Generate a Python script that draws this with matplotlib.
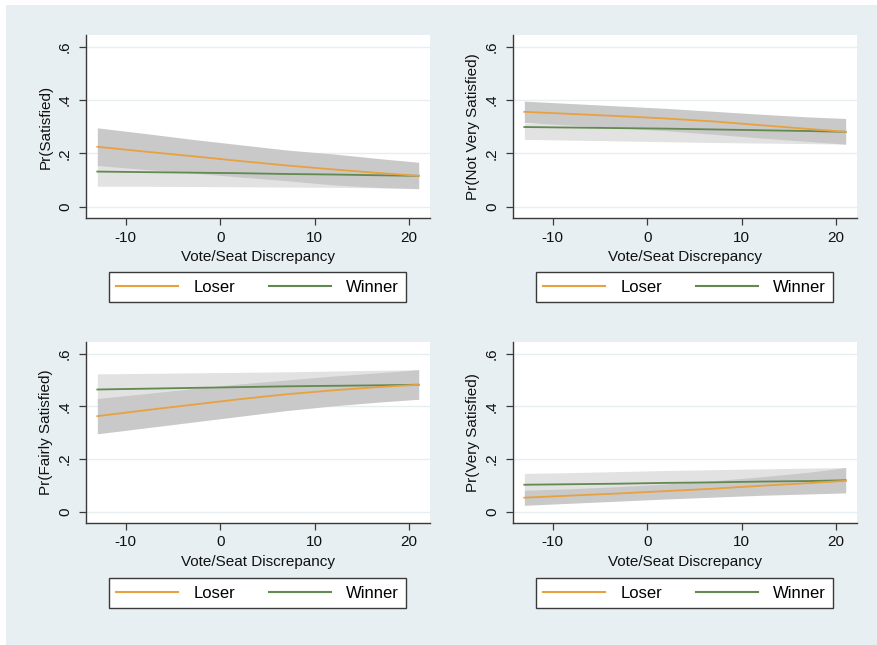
import matplotlib
matplotlib.use("Agg")
import matplotlib.pyplot as plt
from matplotlib.patches import Rectangle

plt.rcParams['font.family'] = ['Liberation Sans', 'DejaVu Sans']

# ---- data ----
x_vals = [-13, -8, -3, 2, 7, 12, 17, 21]

ylabels = ["Pr(Satisfied)", "Pr(Not Very Satisfied)",
           "Pr(Fairly Satisfied)", "Pr(Very Satisfied)"]

loser_mean = [
    [0.225, 0.207, 0.190, 0.172, 0.155, 0.140, 0.126, 0.116],
    [0.356, 0.348, 0.340, 0.331, 0.320, 0.306, 0.292, 0.281],
    [0.363, 0.385, 0.406, 0.427, 0.446, 0.461, 0.474, 0.482],
    [0.054, 0.062, 0.070, 0.079, 0.088, 0.099, 0.109, 0.118],
]
loser_upper = [
    [0.296, 0.275, 0.253, 0.233, 0.213, 0.198, 0.180, 0.167],
    [0.396, 0.387, 0.378, 0.369, 0.358, 0.347, 0.337, 0.331],
    [0.430, 0.448, 0.467, 0.485, 0.500, 0.515, 0.528, 0.539],
    [0.082, 0.088, 0.096, 0.106, 0.118, 0.133, 0.150, 0.168],
]
loser_lower = [
    [0.155, 0.140, 0.127, 0.112, 0.098, 0.082, 0.072, 0.068],
    [0.316, 0.306, 0.296, 0.285, 0.272, 0.258, 0.245, 0.235],
    [0.296, 0.318, 0.340, 0.362, 0.384, 0.402, 0.417, 0.427],
    [0.025, 0.033, 0.041, 0.049, 0.056, 0.063, 0.068, 0.072],
]
winner_mean = [
    [0.132, 0.130, 0.128, 0.126, 0.123, 0.121, 0.118, 0.116],
    [0.299, 0.297, 0.295, 0.293, 0.290, 0.287, 0.284, 0.281],
    [0.464, 0.467, 0.470, 0.473, 0.476, 0.478, 0.480, 0.482],
    [0.103, 0.105, 0.107, 0.110, 0.112, 0.115, 0.117, 0.120],
]
winner_upper = [
    [0.190, 0.185, 0.180, 0.175, 0.170, 0.165, 0.162, 0.160],
    [0.313, 0.311, 0.309, 0.307, 0.305, 0.302, 0.300, 0.298],
    [0.523, 0.525, 0.527, 0.529, 0.531, 0.534, 0.537, 0.539],
    [0.146, 0.149, 0.153, 0.157, 0.160, 0.163, 0.166, 0.168],
]
winner_lower = [
    [0.077, 0.077, 0.076, 0.075, 0.074, 0.073, 0.071, 0.070],
    [0.253, 0.250, 0.247, 0.244, 0.241, 0.239, 0.237, 0.235],
    [0.410, 0.413, 0.416, 0.419, 0.421, 0.423, 0.425, 0.427],
    [0.070, 0.071, 0.072, 0.073, 0.074, 0.075, 0.076, 0.077],
]

xticks = [-10, 0, 10, 20]
yticks = [0, 0.2, 0.4, 0.6]
yticklabels = ["0", ".2", ".4", ".6"]
xlabel = "Vote/Seat Discrepancy"
series_names = ["Loser", "Winner"]

# ---- styles ----
W, H = 878, 645
BG = "#e8eff2"
LOSER_C = "#e8a13f"
WINNER_C = "#62894f"
LOSER_BAND = "#c9c9c9"
WINNER_BAND = "#e2e2e2"
SPINE = "#3a3a3a"

fig = plt.figure(figsize=(W / 100, H / 100), dpi=100, facecolor="white")
fig.patches.append(Rectangle((6 / W, 0), 1 - 6 / W, 1 - 5 / H,
                             transform=fig.transFigure, facecolor=BG,
                             edgecolor="none", zorder=-10))

# axes boxes in pixels: left, top, right, bottom
boxes = [
    (86, 35, 430, 218),
    (513, 35, 857, 218),
    (86, 342, 430, 523),
    (513, 342, 857, 523),
]
legend_boxes = [
    (109, 271, 406, 303),
    (536, 271, 833, 303),
    (109, 578, 406, 608),
    (536, 578, 833, 608),
]


def fig_rect(l, t, r, b):
    return [l / W, 1 - b / H, (r - l) / W, (b - t) / H]


for i in range(4):
    ax = fig.add_axes(fig_rect(*boxes[i]))
    ax.set_facecolor("white")
    ax.fill_between(x_vals, winner_lower[i], winner_upper[i],
                    color=WINNER_BAND, lw=0, zorder=1)
    ax.fill_between(x_vals, loser_lower[i], loser_upper[i],
                    color=LOSER_BAND, lw=0, zorder=2)
    lw_, = ax.plot(x_vals, loser_mean[i], color=LOSER_C, lw=1.3, zorder=4,
                   label=series_names[0])
    ww_, = ax.plot(x_vals, winner_mean[i], color=WINNER_C, lw=1.3, zorder=3,
                   label=series_names[1])
    ax.set_xlim(-14.2, 22.2)
    ax.set_ylim(-0.042, 0.644)
    ax.set_xticks(xticks)
    ax.set_xticklabels([str(t) for t in xticks], fontsize=11)
    ax.set_yticks(yticks)
    ax.set_yticklabels(yticklabels, fontsize=11, rotation=90, va="center")
    ax.grid(axis="y", color="#e6eef0", lw=1.0, zorder=0)
    ax.set_axisbelow(True)
    for s in ["top", "right"]:
        ax.spines[s].set_visible(False)
    for s in ["left", "bottom"]:
        ax.spines[s].set_color(SPINE)
        ax.spines[s].set_linewidth(1.0)
    ax.tick_params(axis="x", length=5, width=0.9, color=SPINE,
                   labelcolor="#111111", pad=4)
    ax.tick_params(axis="y", length=5, width=0.9, color=SPINE,
                   labelcolor="#111111", pad=5)
    ax.set_xlabel(xlabel, fontsize=11, color="#111111", labelpad=4)
    ax.set_ylabel(ylabels[i], fontsize=11, color="#111111", labelpad=4)

    l, t, r, b = legend_boxes[i]
    bb = (l / W, 1 - b / H, (r - l) / W, (b - t) / H)
    leg = fig.legend(handles=[lw_, ww_], labels=series_names, ncol=2,
                     bbox_to_anchor=bb, bbox_transform=fig.transFigure,
                     loc="center", mode="expand", fontsize=12,
                     handlelength=3.7, handletextpad=0.9,
                     frameon=True, fancybox=False, borderpad=0.45,
                     borderaxespad=0)
    fr = leg.get_frame()
    fr.set_edgecolor(SPINE)
    fr.set_linewidth(1.0)
    fr.set_facecolor("white")
    fr.set_alpha(1)
    for ln in leg.get_lines():
        ln.set_linewidth(1.5)

fig.savefig("out.png", dpi=100, facecolor=fig.get_facecolor())
